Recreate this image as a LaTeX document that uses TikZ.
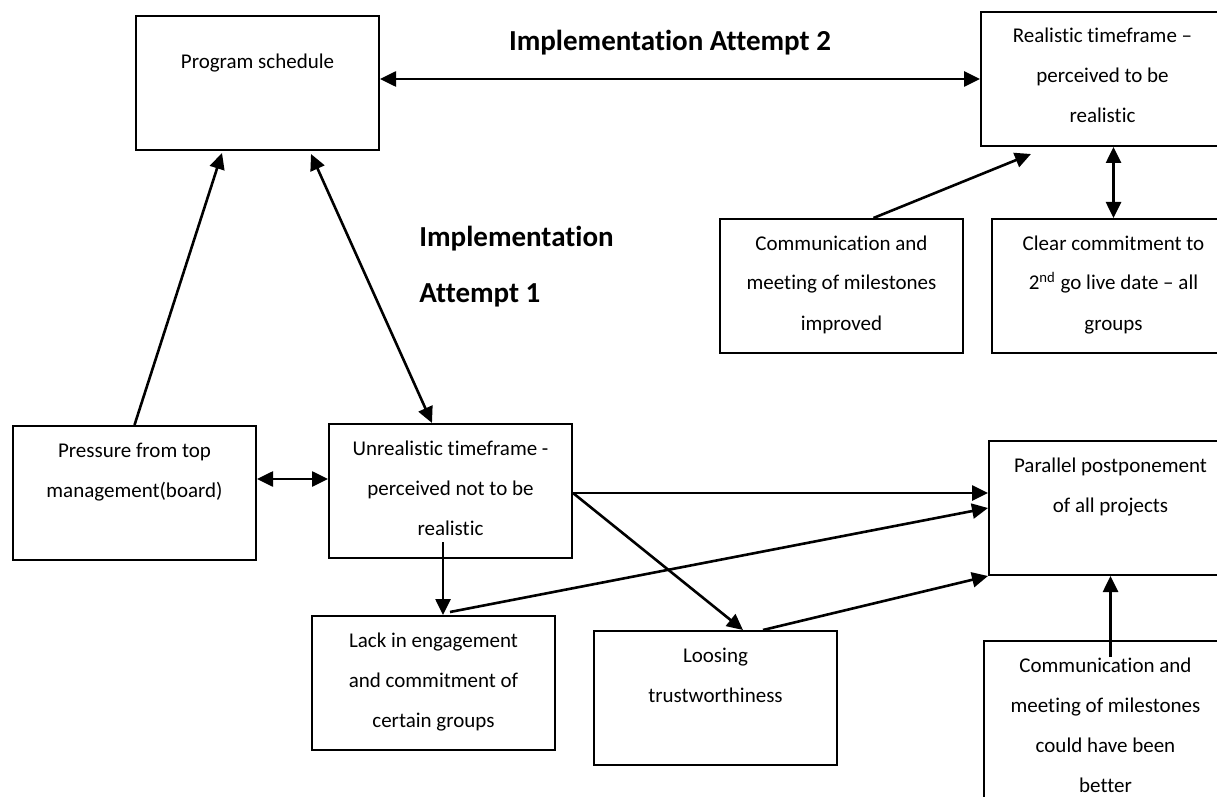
\documentclass[tikz,border=0pt]{standalone}
\usepackage{fontspec}
\setmainfont{Carlito}[Ligatures=NoCommon]
\usetikzlibrary{arrows.meta}

\newcommand{\factorfont}{\fontsize{10.5pt}{20pt}\selectfont}
\newcommand{\headfont}{\fontsize{14.5pt}{28pt}\selectfont\bfseries}

\begin{document}
\begin{tikzpicture}[x=0.5pt,y=-0.5pt,
  factor/.style={draw, line width=1pt, inner sep=0pt, anchor=north west,
    execute at begin node={\begin{minipage}[t][#1][t]{121.5pt}\factorfont\centering\rule{0pt}{15.5pt}},
    execute at end node={\end{minipage}}},
  factor/.default=67pt,
  heading/.style={font=\headfont, inner sep=0pt},
  link/.style={line width=1.3pt, -{Triangle[length=8pt,width=7.5pt]}},
  twoway/.style={line width=1.3pt, {Triangle[length=8pt,width=7.5pt]}-{Triangle[length=8pt,width=7.5pt]}}]
  \useasboundingbox (0,0) rectangle (1217,797);
  \clip (0,0) rectangle (1217,797);

  % attempt 2
  \node[factor] (sched) at (135,15) {\rule{0pt}{26.5pt}Program schedule};
  \node[factor] (real) at (980,11) {Realistic timeframe --\\perceived to be\\realistic};
    \node[factor] (commok) at (719,218) {Communication and\\meeting of milestones\\improved};
    \node[factor] (clear) at (991,218) {Clear commitment to\\2\textsuperscript{nd} go live date -- all\\groups};
  \node[heading] (att2) at (670,43) {Implementation Attempt 2};

  % attempt 1
  \node[heading, align=left, anchor=west] (att1) at (419,267) {Implementation\\Attempt 1};
  \node[factor] (press) at (12,425) {Pressure from top\\management(board)};
  \node[factor] (unreal) at (328,423) {Unrealistic timeframe -\\perceived not to be\\realistic};
    \node[factor] (lack) at (311,615) {Lack in engagement\\and commitment of\\certain groups};
    \node[factor] (loose) at (593,630) {Loosing\\trustworthiness};
  \node[factor] (parallel) at (988,440) {Parallel postponement\\of all projects};
    \node[factor=88pt] (commbad) at (983,640) {Communication and\\meeting of milestones\\could have been\\better};

  \draw[twoway] (sched.east |- real.west) -- (real.west);
  \draw[link] ([xshift=16pt]commok.north) -- ([xshift=25.5pt,yshift=-3.5pt]real.south west);
  \draw[twoway] (clear.north) -- (clear.north |- real.south);

  \draw[link] (press.north) -- ([xshift=-17.75pt,yshift=-1pt]sched.south);
  \draw[twoway] ([xshift=26.75pt,yshift=-1.5pt]sched.south) -- ([xshift=-9.25pt]unreal.north);
  \draw[twoway] ([yshift=7pt]press.east) -- ([yshift=6pt]unreal.west);
  \draw[link] ([xshift=-3.75pt,yshift=8.5pt]unreal.south) -- ([xshift=4.75pt]lack.north);
  \draw[link] ([yshift=-1pt]unreal.east) -- ([yshift=7.5pt]parallel.west);
  \draw[link] ([yshift=-1pt]unreal.east) -- ([xshift=13.75pt]loose.north);
  \draw[link] ([xshift=8.25pt,yshift=1.5pt]lack.north) -- (parallel.west);
  \draw[link] ([xshift=23.75pt]loose.north) -- (parallel.south west);
  \coordinate (cb) at (parallel.south |- commbad.north);
  \draw[link] ([yshift=-8.5pt]cb) -- (parallel.south);
\end{tikzpicture}
\end{document}
